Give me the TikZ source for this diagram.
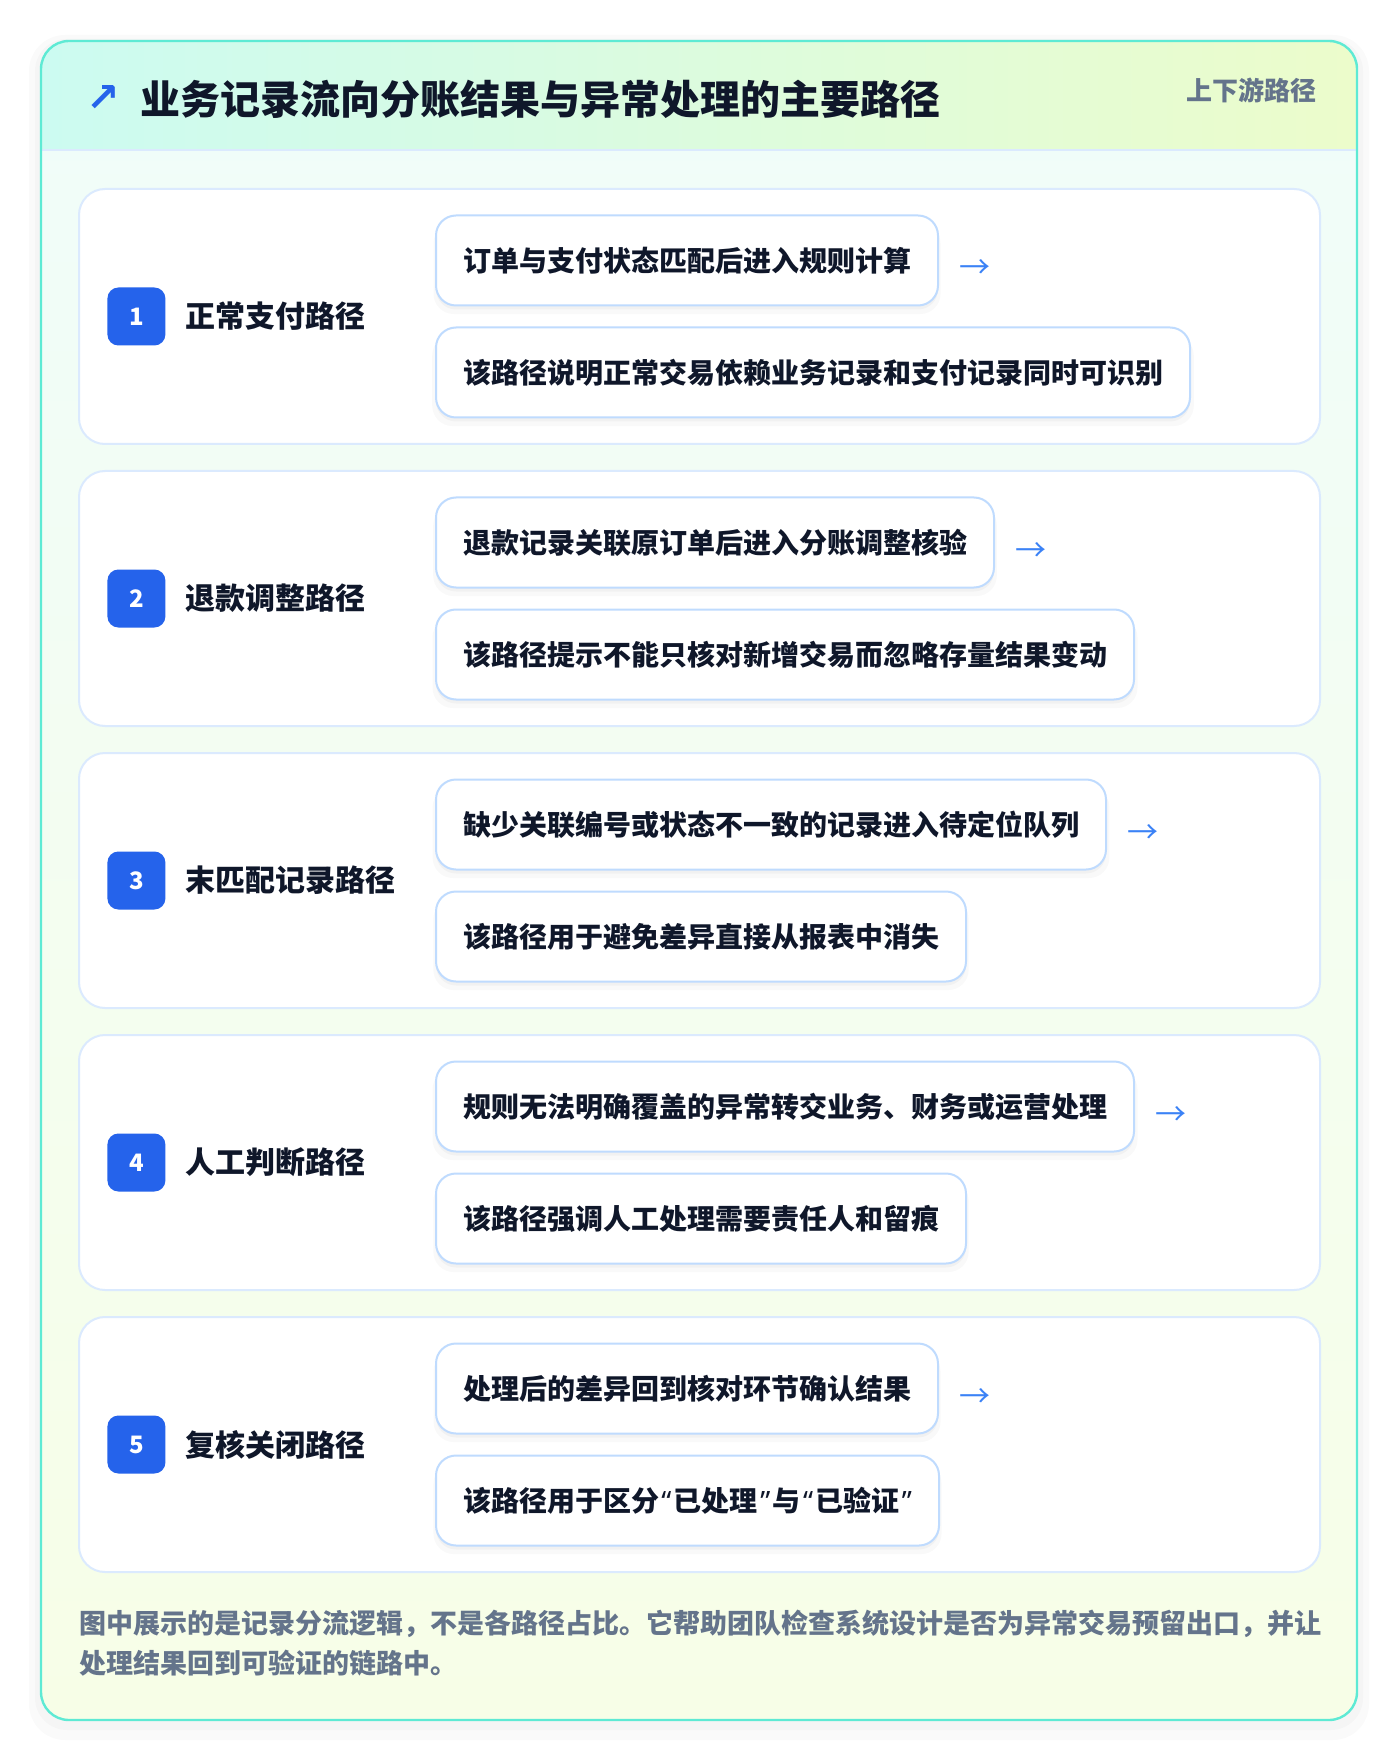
\documentclass[tikz,border=0pt]{standalone}
\usepackage{fontspec}
\setmainfont{Noto Sans CJK SC}
\newfontfamily\symfont{DejaVu Sans}
\newfontfamily\quotefont{Noto Sans}
\newcommand{\openq}{\hspace{1.2pt}{\quotefont “}\hspace{1.2pt}}
\newcommand{\closeq}{\hspace{1.2pt}{\quotefont ”}\hspace{1.2pt}}
\usetikzlibrary{positioning,shadows}

\definecolor{tealline}{RGB}{94,234,212}
\definecolor{headleft}{RGB}{204,251,241}
\definecolor{headright}{RGB}{236,252,203}
\definecolor{bodytop}{RGB}{240,253,250}
\definecolor{bodybottom}{RGB}{247,254,231}
\definecolor{headline}{RGB}{219,234,254}
\definecolor{cardline}{RGB}{219,234,254}
\definecolor{boxline}{RGB}{191,219,254}
\definecolor{badgeblue}{RGB}{37,99,235}
\definecolor{arrowblue}{RGB}{59,130,246}
\definecolor{ink}{RGB}{15,23,42}
\definecolor{muted}{RGB}{100,116,139}

\begin{document}
\begin{tikzpicture}[x=0.5pt, y=-0.5pt,
				softshadow/.style={general shadow={fill=black, opacity=0.025, shadow yshift=-4pt, shadow scale=1.01}, general shadow={fill=black, opacity=0.03, shadow yshift=-2pt}},
				card/.style={draw=cardline, line width=1pt, fill=white, rounded corners=13pt, minimum width=620.5pt, minimum height=127.5pt, inner sep=0pt, outer sep=0pt},
				badge/.style={fill=badgeblue, rounded corners=5.5pt, minimum size=29pt, inner sep=0pt, text=white, font=\bfseries\fontsize{12}{12}\selectfont},
				pathname/.style={inner sep=0pt, text=ink, font=\bfseries\fontsize{15}{15}\selectfont},
				stepbox/.style={draw=boxline, line width=1pt, fill=white, rounded corners=10pt, minimum height=45pt, inner xsep=13.5pt, inner ysep=0pt, text=ink, font=\bfseries\fontsize{14}{14}\selectfont, softshadow},
				flow/.style={inner sep=0pt, text=arrowblue, font=\fontsize{15.5}{15.5}\selectfont}
			]
			\useasboundingbox[fill=white] (0,0) rectangle (1400,1764);
			% outer panel
			\fill[black, opacity=0.02, rounded corners=18pt] (29,35) rectangle (1369,1740);
			\fill[black, opacity=0.02, rounded corners=16pt] (35,39) rectangle (1363,1730);
			\shade[top color=bodytop, bottom color=bodybottom, rounded corners=14pt] (41,41) rectangle (1357,1720);
			\begin{scope}
			\clip[rounded corners=14pt] (41,41) rectangle (1357,1720);
			\shade[left color=headleft, right color=headright] (41,41) rectangle (1357,150);
			\end{scope}
			\draw[headline, line width=1pt] (41,150) -- (1357,150);
			\draw[tealline, line width=1.2pt, rounded corners=14pt] (41,41) rectangle (1357,1720);
			% header
			\node[anchor=west, inner sep=0pt, text=ink, font=\bfseries\fontsize{20}{20}\selectfont] (title) at (140,99) {业务记录流向分账结果与异常处理的主要路径};
			\node[inner sep=0pt, text=badgeblue, font=\symfont\bfseries\fontsize{20}{20}\selectfont] (icon) [left=10pt of title] {↗};
			\node[anchor=east, inner sep=0pt, text=muted, font=\bfseries\fontsize{13}{13}\selectfont] (tag) at (1317,90) {上下游路径};
			% path cards
			\node[card] (path1) at (699.5,316.5) {};
			\node[card] (path2) [below=13.5pt of path1] {};
			\node[card] (path3) [below=13.5pt of path2] {};
			\node[card] (path4) [below=13.5pt of path3] {};
			\node[card] (path5) [below=13.5pt of path4] {};
			\node[badge] (num1) [right=14pt of path1.west] {1};
			\node[badge] (num2) [right=14pt of path2.west] {2};
			\node[badge] (num3) [right=14pt of path3.west] {3};
			\node[badge] (num4) [right=14pt of path4.west] {4};
			\node[badge] (num5) [right=14pt of path5.west] {5};
			\node[pathname] (name1) [right=9.5pt of num1] {正常支付路径};
			\node[pathname] (name2) [right=9.5pt of num2] {退款调整路径};
			\node[pathname] (name3) [right=9.5pt of num3] {末匹配记录路径};
			\node[pathname] (name4) [right=9.5pt of num4] {人工判断路径};
			\node[pathname] (name5) [right=9.5pt of num5] {复核关闭路径};
			% steps and notes
			\node[stepbox] (step1) [above right=5pt and 178pt of path1.west] {订单与支付状态匹配后进入规则计算};
			\node[stepbox] (note1) [below right=5pt and 178pt of path1.west] {该路径说明正常交易依赖业务记录和支付记录同时可识别};
			\node[stepbox] (step2) [above right=5pt and 178pt of path2.west] {退款记录关联原订单后进入分账调整核验};
			\node[stepbox] (note2) [below right=5pt and 178pt of path2.west] {该路径提示不能只核对新增交易而忽略存量结果变动};
			\node[stepbox] (step3) [above right=5pt and 178pt of path3.west] {缺少关联编号或状态不一致的记录进入待定位队列};
			\node[stepbox] (note3) [below right=5pt and 178pt of path3.west] {该路径用于避免差异直接从报表中消失};
			\node[stepbox] (step4) [above right=5pt and 178pt of path4.west] {规则无法明确覆盖的异常转交业务、财务或运营处理};
			\node[stepbox] (note4) [below right=5pt and 178pt of path4.west] {该路径强调人工处理需要责任人和留痕};
			\node[stepbox] (step5) [above right=5pt and 178pt of path5.west] {处理后的差异回到核对环节确认结果};
			\node[stepbox] (note5) [below right=5pt and 178pt of path5.west] {该路径用于区分\openq 已处理\closeq 与\openq 已验证\closeq};
			\node[flow] (go1) [right=10pt of step1, yshift=-4.5pt] {→};
			\node[flow] (go2) [right=10pt of step2, yshift=-4.5pt] {→};
			\node[flow] (go3) [right=10pt of step3, yshift=-4.5pt] {→};
			\node[flow] (go4) [right=10pt of step4, yshift=-4.5pt] {→};
			\node[flow] (go5) [right=10pt of step5, yshift=-4.5pt] {→};
			% footnote
			\node[inner sep=0pt, align=left, text=muted, font=\bfseries\fontsize{13.5}{20}\selectfont] (summary) [below right=19pt and 0pt of path5.south west] {图中展示的是记录分流逻辑，不是各路径占比。它帮助团队检查系统设计是否为异常交易预留出口，并让\\处理结果回到可验证的链路中。};
			\end{tikzpicture}
\end{document}
